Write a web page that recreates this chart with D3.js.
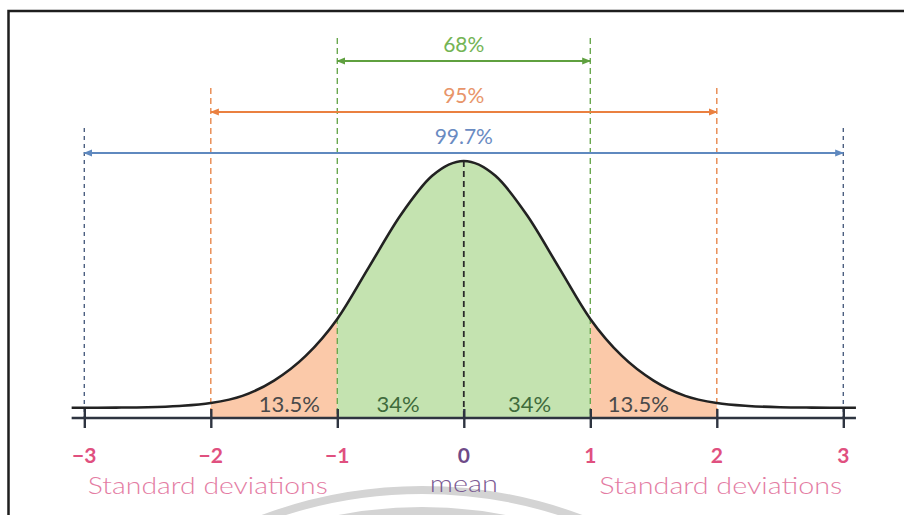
<!DOCTYPE html>
<html>
<head>
<meta charset="utf-8">
<script src="https://cdn.jsdelivr.net/npm/d3@7/dist/d3.min.js"></script>
<style>
  html, body { margin: 0; padding: 0; background: #fff; }
  svg { display: block; }
  text { font-family: Lato, "Open Sans", sans-serif; }
</style>
</head>
<body>
<script>
// ---- data ----
const tickValues = [-3, -2, -1, 0, 1, 2, 3];
const tickLabels = ["\u22123", "\u22122", "\u22121", "0", "1", "2", "3"];
const curveX = [-3.1, -3, -2.75, -2.5, -2.25, -2, -1.75, -1.5, -1.25, -1, -0.75, -0.5, -0.25, 0,
                0.25, 0.5, 0.75, 1, 1.25, 1.5, 1.75, 2, 2.25, 2.5, 2.75, 3, 3.1];
const curveY = [0, 0, 0.0005, 0.002, 0.007, 0.019, 0.048, 0.11, 0.21, 0.36, 0.57, 0.78, 0.94, 1.0,
                0.94, 0.78, 0.57, 0.36, 0.21, 0.11, 0.048, 0.019, 0.007, 0.002, 0.0005, 0, 0];
const segmentStart = [-2, -1, 0, 1];
const segmentEnd   = [-1, 0, 1, 2];
const segmentLabels = ["13.5%", "34%", "34%", "13.5%"];
const rangeSigma  = [1, 2, 3];
const rangeLabels = ["68%", "95%", "99.7%"];
const sideLabel = "Standard deviations";
const meanLabel = "mean";

// ---- layout ----
const W = 904, H = 515;
const svg = d3.select("body").append("svg").attr("width", W).attr("height", H);

const x = d3.scaleLinear().domain([-3, 3]).range([84.3, 843.3]);
const y = d3.scaleLinear().domain([0, 1]).range([407.7, 161]);
const axisY = 418;

// watermark arcs
const wm = svg.append("g");
[454, 433].forEach(r => {
  wm.append("circle").attr("cx", 422).attr("cy", 944).attr("r", r)
    .attr("fill", "none").attr("stroke", "#d4d4d4").attr("stroke-width", 8);
});

// border
svg.append("path").attr("d", `M8.5,${H} V11 H${W}`)
  .attr("fill", "none").attr("stroke", "#1e1e1e").attr("stroke-width", 2.5);

const pts = curveX.map((v, i) => [v, curveY[i]]);
const fillColors = ["#fbc9a9", "#c4e3b0", "#c4e3b0", "#fbc9a9"];
const defs = svg.append("defs");

// shaded segments via clip paths on one area
const area = d3.area().x(d => x(d[0])).y0(axisY).y1(d => y(d[1])).curve(d3.curveMonotoneX);
segmentStart.forEach((s, i) => {
  const id = "clip" + i;
  defs.append("clipPath").attr("id", id).append("rect")
    .attr("x", x(s)).attr("y", 0).attr("width", x(segmentEnd[i]) - x(s)).attr("height", H);
  svg.append("path").datum(pts).attr("d", area)
    .attr("fill", fillColors[i]).attr("clip-path", `url(#${id})`);
});

// vertical dashed guides
const guideColor = { 0: "#2a2a2a", 1: "#6aa84f", 2: "#e8874c", 3: "#4c5f80" };
const guideTop = { 1: 38, 2: 88, 3: 128 };
tickValues.forEach(t => {
  const a = Math.abs(t);
  const top = a === 0 ? y(1) : guideTop[a];
  svg.append("line").attr("x1", x(t)).attr("x2", x(t)).attr("y1", top).attr("y2", axisY)
    .attr("stroke", guideColor[a]).attr("stroke-width", a === 0 ? 1.8 : 1.4)
    .attr("stroke-dasharray", a === 3 ? "4,4" : "6,4");
});

// curve
const line = d3.line().x(d => x(d[0])).y(d => y(d[1])).curve(d3.curveMonotoneX);
svg.append("path").datum(pts).attr("d", line)
  .attr("fill", "none").attr("stroke", "#222").attr("stroke-width", 2.6);

// axis line and ticks
const xAxis = d3.axisBottom(x).tickValues(tickValues).tickSize(10).tickFormat("");
const ax = svg.append("g").attr("transform", `translate(0,${axisY})`).call(xAxis);
ax.select(".domain").remove();
ax.selectAll(".tick line").attr("y1", -9).attr("y2", 10)
  .attr("stroke", "#2e3440").attr("stroke-width", 2.4);
svg.append("line")
  .attr("x1", x(d3.min(curveX))).attr("x2", x(d3.max(curveX)))
  .attr("y1", axisY).attr("y2", axisY)
  .attr("stroke", "#2e3440").attr("stroke-width", 2.6);

// tick labels
tickValues.forEach((t, i) => {
  svg.append("text").attr("x", x(t)).attr("y", 463)
    .attr("text-anchor", "middle").attr("font-size", 21).attr("font-weight", "bold")
    .attr("fill", t === 0 ? "#6e4a88" : "#e0507f").text(tickLabels[i]);
});

// bottom labels
[[-2, 240], [2, 243]].forEach(([c, len]) => {
  svg.append("text").attr("x", x(c) + (c < 0 ? -3 : 4)).attr("y", 494)
    .attr("text-anchor", "middle").attr("font-size", 24).attr("font-weight", 300)
    .attr("fill", "#e47ca3").attr("textLength", len).attr("lengthAdjust", "spacingAndGlyphs")
    .text(sideLabel);
});
svg.append("text").attr("x", x(0)).attr("y", 492)
  .attr("text-anchor", "middle").attr("font-size", 24).attr("font-weight", 300)
  .attr("fill", "#7a5a92").attr("textLength", 68).attr("lengthAdjust", "spacingAndGlyphs")
  .text(meanLabel);

// segment percentage labels
segmentStart.forEach((s, i) => {
  const mid = (s + segmentEnd[i]) / 2;
  const shift = Math.abs(mid) > 1 ? -Math.sign(mid) * 0.12 : 0.02 * Math.sign(mid);
  svg.append("text").attr("x", x(mid + shift)).attr("y", 412)
    .attr("text-anchor", "middle").attr("font-size", 22)
    .attr("fill", Math.abs(mid) > 1 ? "#4a4a4a" : "#3f6b3c")
    .text(segmentLabels[i]);
});

// range arrows
const arrowColor = { 1: "#5fa03f", 2: "#ea8040", 3: "#5f89bf" };
const textColor  = { 1: "#74b455", 2: "#e8956a", 3: "#6a8bc2" };
const arrowY = { 1: 61, 2: 112, 3: 153 };
rangeSigma.forEach((s, i) => {
  const c = arrowColor[s];
  ["s", "e"].forEach(k => {
    defs.append("marker").attr("id", `m${s}${k}`)
      .attr("viewBox", "0 0 10 10").attr("refX", 9).attr("refY", 5)
      .attr("markerWidth", 4.5).attr("markerHeight", 4.5).attr("markerUnits", "strokeWidth")
      .attr("orient", k === "e" ? "auto" : "auto-start-reverse")
      .append("path").attr("d", "M0,1 L10,5 L0,9 Z").attr("fill", c);
  });
  svg.append("line").attr("x1", x(-s)).attr("x2", x(s))
    .attr("y1", arrowY[s]).attr("y2", arrowY[s])
    .attr("stroke", c).attr("stroke-width", 2)
    .attr("marker-start", `url(#m${s}s)`).attr("marker-end", `url(#m${s}e)`);
  svg.append("text").attr("x", x(0)).attr("y", arrowY[s] - 9)
    .attr("text-anchor", "middle").attr("font-size", 21)
    .attr("fill", textColor[s]).text(rangeLabels[i]);
});
</script>
</body>
</html>
